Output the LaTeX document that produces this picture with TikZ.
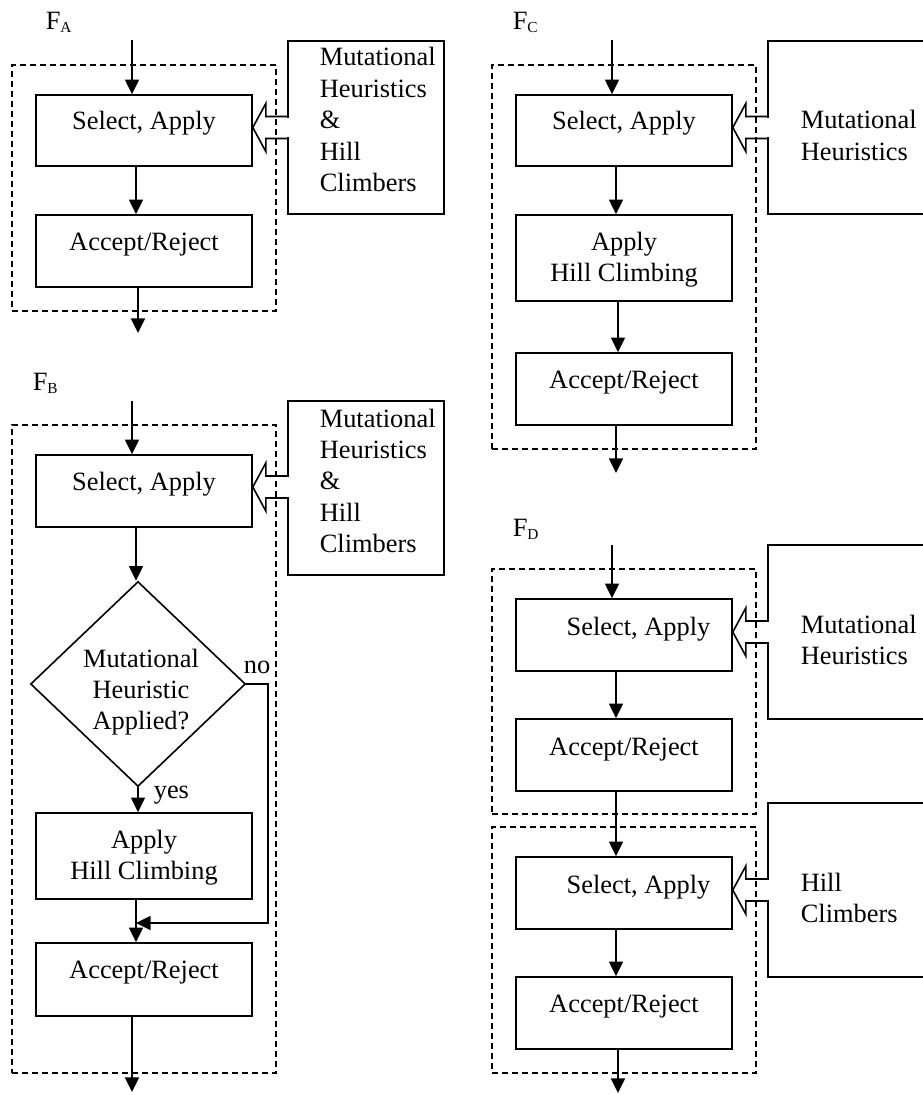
\documentclass[tikz,border=0pt]{standalone}
\usepackage{fontspec}
\setmainfont{Liberation Serif}
\usetikzlibrary{arrows.meta,shapes.geometric,fit,calc}
\newcommand\fatarrow[4]{%
  \coordinate (#3) at ($(#1.east)+(0,#4)$);
  \coordinate (#3b) at (#3 -| #2.west);
  \draw[white, line width=2.2pt] ($(#3b)+(0,-9.6)$) -- ($(#3b)+(0,9.6)$);
  \draw[line join=miter, miter limit=20] ($(#3b)+(0,-11)$) -- ($(#3)+(13,-11)$) -- ($(#3)+(13,-24)$) -- (#3) -- ($(#3)+(13,24)$) -- ($(#3)+(13,11)$) -- ($(#3b)+(0,11)$);
}
\newcommand\subl[1]{\raisebox{-2.25pt}{\fontsize{11.5}{13}\selectfont #1}}
\begin{document}
\begin{tikzpicture}[x=0.75pt,y=-0.75pt, line width=1.2pt,
  box/.style={draw, inner sep=0pt},
  grp/.style={draw, dash pattern=on 4.5pt off 3pt, inner sep=0pt, line width=1.1pt},
  arr/.style={-{Triangle[length=11pt,width=10.5pt]}},
  txt/.style={inner sep=0pt, font=\fontsize{19.8}{23.6}\selectfont},
]
\useasboundingbox (0,0) rectangle (922,1095);

% ---------- dashed groups
\node[grp, fit={(12,65) (276,311)}] (gA) {};
\node[grp, fit={(12,425) (276,1073)}] (gB) {};
\node[grp, fit={(492,65) (756,449)}] (gC) {};
\node[grp, fit={(492,569) (756,814)}] (gD1) {};
\node[grp, fit={(492,827) (756,1073)}] (gD2) {};

% ---------- labels
\node[txt, anchor=base west] (lA) at (45,30) {F\subl{A}};
\node[txt, anchor=base west] (lB) at (32,390) {F\subl{B}};
\node[txt, anchor=base west] (lC) at (512,30) {F\subl{C}};
\node[txt, anchor=base west] (lD) at (512,536) {F\subl{D}};

% ---------- F_A
\node[box, fit={(36,95) (252,166)}] (selA) {};
\node[box, fit={(36,215) (252,287)}] (accA) {};
\node[box, fit={(288,41) (444,214)}] (heurA) {};
\node[txt, anchor=base] (tselA) at (144,130) {Select, Apply};
\node[txt, anchor=base] (taccA) at (144,250) {Accept/Reject};
\node[txt, anchor=base west] (theurA) at (319,66) {\begin{tabular}[t]{@{}l@{}}Mutational\\Heuristics\\\&\\Hill\\Climbers\end{tabular}};
\coordinate (inA) at (132,40);
\draw[arr] (inA) -- (inA |- selA.north);
\coordinate (sA) at ($(selA.south)+(-8,0)$);
\draw[arr] (sA) -- (sA |- accA.north);
\coordinate (outA) at (138,333);
\draw[arr] (outA |- accA.south) -- (outA);
\fatarrow{selA}{heurA}{fA}{-3}

% ---------- F_B
\node[box, fit={(36,455) (252,527)}] (selB) {};
\node[draw, diamond, minimum width=161.25pt, minimum height=153.75pt, inner sep=0pt] (dia) at (138,684) {};
\node[box, fit={(36,813) (252,899)}] (appB) {};
\node[box, fit={(36,943) (252,1016)}] (accB) {};
\node[box, fit={(288,401) (444,575)}] (heurB) {};
\node[txt, anchor=base] (tselB) at (144,490) {Select, Apply};
\node[txt, anchor=base] (tdia) at (141,667) {\begin{tabular}[t]{@{}c@{}}Mutational\\Heuristic\\Applied?\end{tabular}};
\node[txt, anchor=base] (tappB) at (144,848) {\begin{tabular}[t]{@{}c@{}}Apply\\Hill Climbing\end{tabular}};
\node[txt, anchor=base] (taccB) at (144,978) {Accept/Reject};
\node[txt, anchor=base west] (theurB) at (319,427) {\begin{tabular}[t]{@{}l@{}}Mutational\\Heuristics\\\&\\Hill\\Climbers\end{tabular}};
\node[txt, anchor=base west] (no) at (243,673) {no};
\node[txt, anchor=base west] (yes) at (153,798) {yes};
\coordinate (inB) at (132,401);
\draw[arr] (inB) -- (inB |- selB.north);
\coordinate (sB) at ($(selB.south)+(-8,0)$);
\draw[arr] (sB) -- (sB |- dia.north);
\draw[arr] (dia.south) -- (dia.south |- appB.north);
\coordinate (aB) at ($(appB.south)+(-8,0)$);
\draw[arr] (aB) -- (aB |- accB.north);
\coordinate (noB) at (268,923);
\draw[arr] (dia.east) -| (noB) -- (noB -| aB);
\coordinate (outB) at (132,1092);
\draw[arr] (outB |- accB.south) -- (outB);
\fatarrow{selB}{heurB}{fB}{-4}

% ---------- F_C
\node[box, fit={(516,95) (732,166)}] (selC) {};
\node[box, fit={(516,215) (732,301)}] (appC) {};
\node[box, fit={(516,353) (732,425)}] (accC) {};
\node[box, fit={(768,41) (960,214)}] (heurC) {};
\node[txt, anchor=base] (tselC) at (624,130) {Select, Apply};
\node[txt, anchor=base] (tappC) at (624,250) {\begin{tabular}[t]{@{}c@{}}Apply\\Hill Climbing\end{tabular}};
\node[txt, anchor=base] (taccC) at (624,388) {Accept/Reject};
\node[txt, anchor=base west] (theurC) at (800,129) {\begin{tabular}[t]{@{}l@{}}Mutational\\Heuristics\end{tabular}};
\coordinate (inC) at (612,40);
\draw[arr] (inC) -- (inC |- selC.north);
\coordinate (sC) at ($(selC.south)+(-8,0)$);
\draw[arr] (sC) -- (sC |- appC.north);
\coordinate (aC) at ($(appC.south)+(-6,0)$);
\draw[arr] (aC) -- (aC |- accC.north);
\coordinate (outC) at (616,473);
\draw[arr] (outC |- accC.south) -- (outC);
\fatarrow{selC}{heurC}{fC}{-3}

% ---------- F_D
\node[box, fit={(516,599) (732,671)}] (selD1) {};
\node[box, fit={(516,719) (732,791)}] (accD1) {};
\node[box, fit={(516,857) (732,929)}] (selD2) {};
\node[box, fit={(516,977) (732,1049)}] (accD2) {};
\node[box, fit={(768,545) (960,719)}] (heurD1) {};
\node[box, fit={(768,803) (960,977)}] (heurD2) {};
\node[txt, anchor=base] (tselD1) at (638.5,635) {Select, Apply};
\node[txt, anchor=base] (taccD1) at (624,755) {Accept/Reject};
\node[txt, anchor=base] (tselD2) at (638.5,893) {Select, Apply};
\node[txt, anchor=base] (taccD2) at (624,1012) {Accept/Reject};
\node[txt, anchor=base west] (theurD1) at (800,633) {\begin{tabular}[t]{@{}l@{}}Mutational\\Heuristics\end{tabular}};
\node[txt, anchor=base west] (theurD2) at (800,891) {\begin{tabular}[t]{@{}l@{}}Hill\\Climbers\end{tabular}};
\coordinate (inD) at (612,545);
\draw[arr] (inD) -- (inD |- selD1.north);
\coordinate (sD1) at ($(selD1.south)+(-8,0)$);
\draw[arr] (sD1) -- (sD1 |- accD1.north);
\coordinate (aD1) at ($(accD1.south)+(-8,0)$);
\draw[arr] (aD1) -- (aD1 |- selD2.north);
\coordinate (sD2) at ($(selD2.south)+(-8,0)$);
\draw[arr] (sD2) -- (sD2 |- accD2.north);
\coordinate (outD) at (618,1093);
\draw[arr] (outD |- accD2.south) -- (outD);
\fatarrow{selD1}{heurD1}{fD1}{-3}
\fatarrow{selD2}{heurD2}{fD2}{-3}
\end{tikzpicture}
\end{document}
